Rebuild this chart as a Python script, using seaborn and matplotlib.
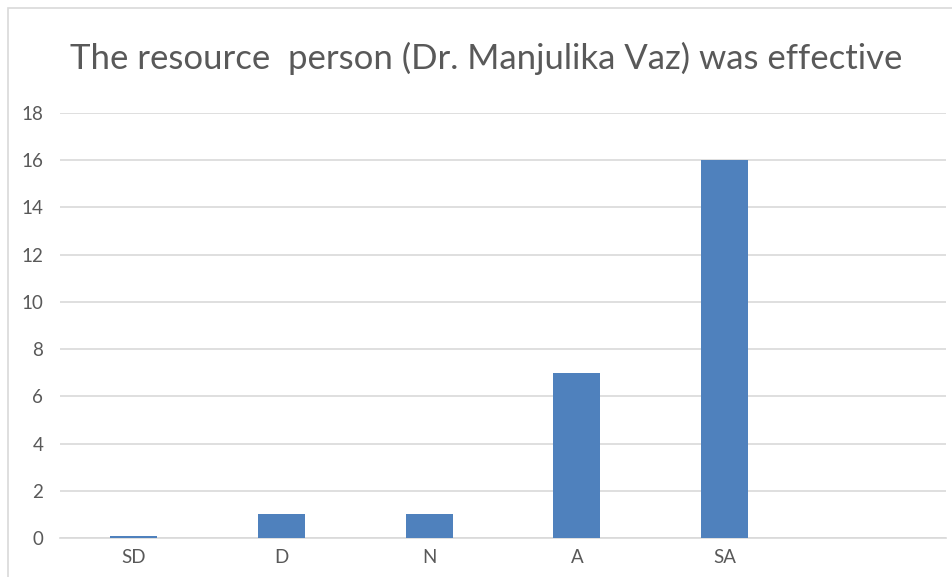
import seaborn as sns
import matplotlib.pyplot as plt
import matplotlib.patches as patches
import pandas as pd

categories = ['SD', 'D', 'N', 'A', 'SA', '']
counts = [0.08, 1, 1, 7, 16, 0]
yticks = [0, 2, 4, 6, 8, 10, 12, 14, 16, 18]
title = 'The resource  person (Dr. Manjulika Vaz) was effective'

W, H = 952, 577
grey = '#595959'

sns.set_theme(style='white')
plt.rcParams['font.family'] = ['Lato', 'DejaVu Sans']

fig = plt.figure(figsize=(W / 100, H / 100), dpi=100)
# chart frame like excel
fig.patches.append(patches.Rectangle((8 / W, -0.01), 1.0, 1 - 8 / H + 0.01,
                                     transform=fig.transFigure, fill=False,
                                     edgecolor='#d9d9d9', linewidth=1.2))

ax = fig.add_axes([60 / W, (H - 538) / H, (946 - 60) / W, (538 - 113) / H])
df = pd.DataFrame({'cat': categories, 'val': counts})
sns.barplot(data=df, x='cat', y='val', color='#4f81bd', saturation=1,
            width=0.32, linewidth=0, ax=ax, zorder=3)

ax.set_ylim(0, 18)
ax.set_xlim(-0.5, 5.5)
ax.set_yticks(yticks)
ax.set_yticklabels([str(t) for t in yticks], fontsize=13.5, color=grey)
ax.tick_params(axis='x', labelsize=13.5, labelcolor=grey, length=0, pad=8)
ax.tick_params(axis='y', length=0, pad=12)
ax.yaxis.grid(True, color='#d9d9d9', linewidth=1.2)
ax.set_axisbelow(True)
for s in ['top', 'right', 'left']:
    ax.spines[s].set_visible(False)
ax.spines['bottom'].set_color('#d9d9d9')
ax.spines['bottom'].set_linewidth(1.2)
ax.spines['bottom'].set_zorder(1)
ax.set_xlabel('')
ax.set_ylabel('')

fig.text(486 / W, 1 - 58 / H, title, ha='center', va='center',
         fontsize=25, color=grey)

fig.savefig('out.png', dpi=100)
